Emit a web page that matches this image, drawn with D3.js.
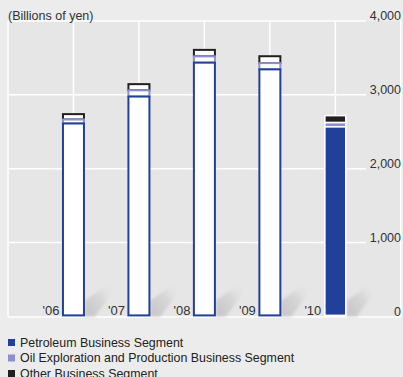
<!DOCTYPE html>
<html>
<head>
<meta charset="utf-8">
<script src="https://cdn.jsdelivr.net/npm/d3@7/dist/d3.min.js"></script>
<style>
  html, body { margin: 0; padding: 0; background: #ececec; }
  svg { display: block; font-family: "Liberation Sans", Arial, sans-serif; }
</style>
</head>
<body>
<div id="chart"></div>
<script>
// Net sales by segment, billions of yen
const years = ["'06", "'07", "'08", "'09", "'10"];
const petroleum = [2612, 2977, 3436, 3345, 2567];
const oilExploration = [54, 84, 85, 85, 57];
const otherBusiness = [73, 84, 88, 93, 95];
const yTicks = [0, 1000, 2000, 3000, 4000];
const unitLabel = "(Billions of yen)";
const segmentNames = [
  "Petroleum Business Segment",
  "Oil Exploration and Production Business Segment",
  "Other Business Segment"
];

const W = 403, H = 377;
const segColors = ["#21409a", "#8e8fcf", "#231f20"];

const svg = d3.select("#chart").append("svg")
  .attr("width", W).attr("height", H);

svg.append("rect").attr("width", W).attr("height", H).attr("fill", "#ececec");

// Scales: one slot per year plus a slot on each side; bars sit on slot lines
const x = d3.scaleLinear().domain([-1, years.length]).range([8, 400.8]);
const y = d3.scaleLinear().domain([0, 4000]).range([316.4, 21]);

// Plot panel
svg.append("rect")
  .attr("x", x(-1)).attr("y", y(4000))
  .attr("width", x(years.length) - x(-1)).attr("height", y(0) - y(4000))
  .attr("fill", "#e6e6e6");

const defs = svg.append("defs");
const grad = defs.append("linearGradient").attr("id", "shadeGrad")
  .attr("x1", "0").attr("y1", "1").attr("x2", "1").attr("y2", "0");
grad.append("stop").attr("offset", "0%").attr("stop-color", "#c4c4c4").attr("stop-opacity", 1);
grad.append("stop").attr("offset", "55%").attr("stop-color", "#d2d2d2").attr("stop-opacity", 0.8);
grad.append("stop").attr("offset", "100%").attr("stop-color", "#e6e6e6").attr("stop-opacity", 0);
defs.append("filter").attr("id", "soft")
  .attr("x", "-30%").attr("y", "-30%").attr("width", "160%").attr("height", "160%")
  .append("feGaussianBlur").attr("stdDeviation", 1.6);

// Vertical grid lines
const vLines = d3.range(-1, years.length + 1);
svg.append("g").selectAll("line").data(vLines).join("line")
  .attr("x1", d => x(d)).attr("x2", d => x(d))
  .attr("y1", y(4000)).attr("y2", y(0))
  .attr("stroke", "#ffffff").attr("stroke-width", 1.5);

// Horizontal grid lines (stop short of the value labels)
svg.append("g").selectAll("line").data(yTicks.filter(d => d > 0)).join("line")
  .attr("x1", x(-1)).attr("x2", 366)
  .attr("y1", d => y(d)).attr("y2", d => y(d))
  .attr("stroke", "#ffffff").attr("stroke-width", 1.5);
svg.append("line")
  .attr("x1", x(-1)).attr("x2", x(years.length))
  .attr("y1", y(0) + 0.6).attr("y2", y(0) + 0.6)
  .attr("stroke", "#ffffff").attr("stroke-width", 1.5);

const barW = 23;

// Soft floor shadows beside each bar
svg.append("g").selectAll("path").data(years).join("path")
  .attr("d", (d, i) => {
    const x0 = x(i) + barW / 2, yb = y(0);
    return `M${x0},${yb} L${x0},${yb - 16} L${x0 + 26},${yb - 34} L${x0 + 26},${yb - 22} L${x0 + 10},${yb} Z`;
  })
  .attr("fill", "url(#shadeGrad)")
  .attr("filter", "url(#soft)");

// Stacked segments; the latest year is drawn solid, earlier years as outlines
const stackData = years.map((yr, i) => ({
  year: yr, i,
  values: [petroleum[i], oilExploration[i], otherBusiness[i]]
}));
const latest = years.length - 1;

const bars = svg.append("g").selectAll("g").data(stackData).join("g");
bars.each(function(d) {
  const g = d3.select(this);
  let cum = 0;
  const segs = d.values.map((v, k) => {
    const s = { k, y0: cum, y1: cum + v };
    cum += v;
    return s;
  });
  // draw top segments first so lower outlines lie over shared edges
  segs.slice().reverse().forEach(s => {
    const solid = d.i === latest;
    g.append("rect")
      .attr("x", x(d.i) - barW / 2 + 1)
      .attr("width", barW - 2)
      .attr("y", y(s.y1))
      .attr("height", y(s.y0) - y(s.y1) - (s.k === 0 ? 1 : 0))
      .attr("fill", solid ? segColors[s.k] : "#ffffff")
      .attr("stroke", solid ? "#ffffff" : segColors[s.k])
      .attr("stroke-width", solid ? 1.6 : 2);
  });
});

// Year labels to the left of each bar
svg.append("g").selectAll("text").data(years).join("text")
  .attr("x", (d, i) => x(i) - barW / 2 - 2.5)
  .attr("y", y(0) - 1.5)
  .attr("text-anchor", "end")
  .attr("font-size", 13)
  .attr("fill", "#333")
  .text(d => d);

// Value labels on the right
svg.append("g").selectAll("text").data(yTicks).join("text")
  .attr("x", 401)
  .attr("y", d => y(d) - 0.8)
  .attr("text-anchor", "end")
  .attr("font-size", 12.5)
  .attr("fill", "#333")
  .text(d => d3.format(",")(d));

svg.append("text")
  .attr("x", 8).attr("y", 20)
  .attr("font-size", 12.5)
  .attr("fill", "#333")
  .text(unitLabel);

// Legend
const legend = svg.append("g").selectAll("g").data(segmentNames).join("g")
  .attr("transform", (d, i) => `translate(8, ${339 + i * 15.5})`);
legend.append("rect")
  .attr("width", 7).attr("height", 7)
  .attr("fill", (d, i) => segColors[i]);
legend.append("text")
  .attr("x", 12).attr("y", 7.5)
  .attr("font-size", 12.4)
  .attr("fill", "#222")
  .text(d => d);
</script>
</body>
</html>
